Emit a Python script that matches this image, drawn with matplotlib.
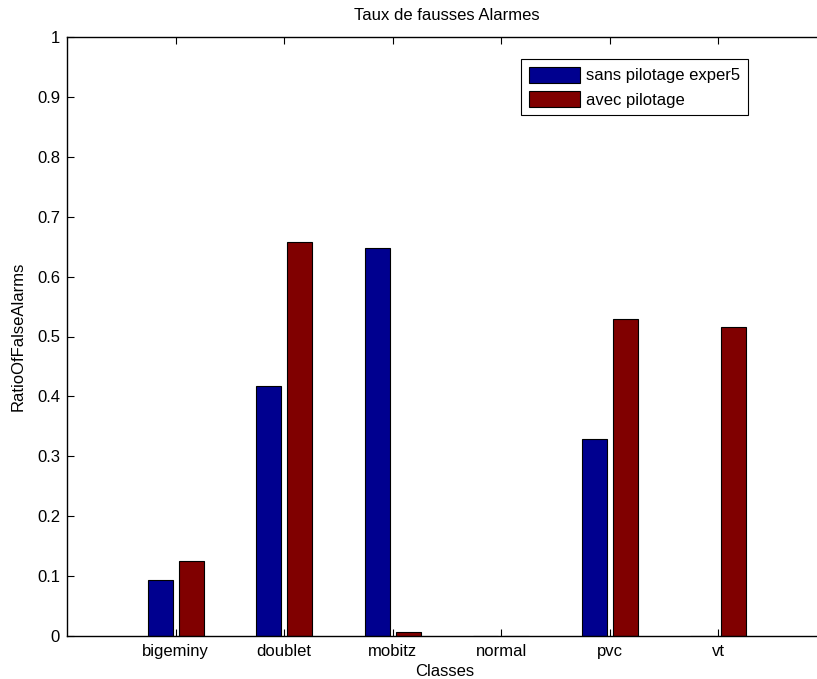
import matplotlib
matplotlib.use("Agg")
import matplotlib.pyplot as plt
import numpy as np

plt.rcParams["font.family"] = ["Liberation Sans", "DejaVu Sans"]

classes = ["bigeminy", "doublet", "mobitz", "normal", "pvc", "vt"]
sans_pilotage = [0.094, 0.417, 0.647, 0.0, 0.329, 0.0]
avec_pilotage = [0.125, 0.658, 0.007, 0.0, 0.530, 0.516]
yticks = [0, 0.1, 0.2, 0.3, 0.4, 0.5, 0.6, 0.7, 0.8, 0.9, 1]
ytick_labels = ["0", "0.1", "0.2", "0.3", "0.4", "0.5", "0.6", "0.7", "0.8", "0.9", "1"]

BLUE = "#00008f"
RED = "#800000"
W, H = 817, 679
FS = 12

fig = plt.figure(figsize=(W / 100, H / 100), dpi=100)
ax = fig.add_axes([67 / W, 1 - 636 / H, (827 - 67) / W, (636 - 37) / H])

x = np.arange(1, len(classes) + 1)
width = 0.23
off = 0.143
ax.bar(x - off, sans_pilotage, width, color=BLUE, edgecolor="black", linewidth=0.8,
       label="sans pilotage exper5")
ax.bar(x + off, avec_pilotage, width, color=RED, edgecolor="black", linewidth=0.8,
       label="avec pilotage")

ax.set_xlim(0, 7)
ax.set_ylim(0, 1)
ax.set_xticks(x)
ax.set_xticklabels(classes, fontsize=FS)
ax.set_yticks(yticks)
ax.set_yticklabels(ytick_labels, fontsize=FS)
ax.tick_params(axis="x", pad=6)
ax.tick_params(direction="in", length=5, width=0.8, top=True, right=False)
ax.tick_params(axis="y", pad=5)
ax.spines["right"].set_visible(False)
for s in ax.spines.values():
    s.set_linewidth(1)

fig.text(447 / W, 1 - 15 / H, "Taux de fausses Alarmes", ha="center", va="center", fontsize=FS)
fig.text(445 / W, 1 - 671 / H, "Classes", ha="center", va="center", fontsize=FS)
fig.text(18 / W, 1 - 336 / H, "RatioOfFalseAlarms", ha="center", va="center",
         rotation=90, fontsize=FS)

leg = ax.legend(loc="upper left", bbox_to_anchor=(521 / W, 1 - 59 / H),
                bbox_transform=fig.transFigure, borderaxespad=0, fancybox=False,
                edgecolor="black", framealpha=1, fontsize=FS, handlelength=3.1,
                handleheight=1.15, handletextpad=0.35, borderpad=0.45, labelspacing=0.45)
leg.get_frame().set_linewidth(0.8)

fig.savefig("out.png", dpi=100)
